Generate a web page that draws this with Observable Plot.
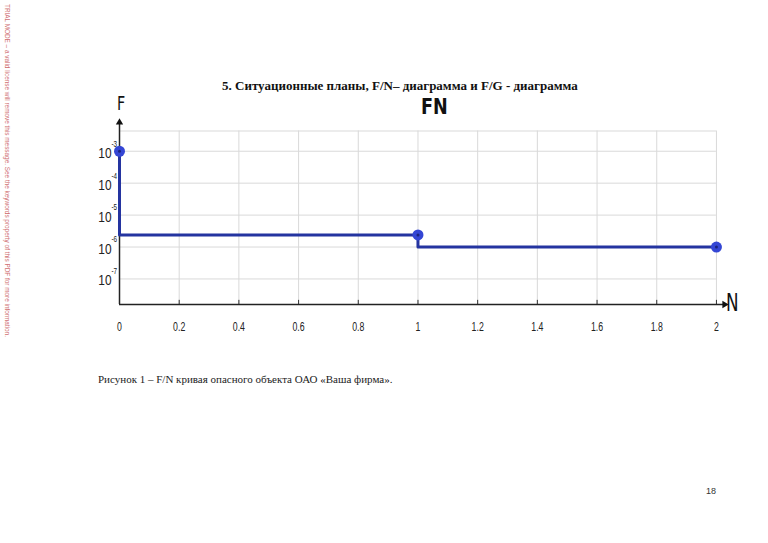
<!DOCTYPE html>
<html>
<head>
<meta charset="utf-8">
<script src="https://cdn.jsdelivr.net/npm/d3@7"></script>
<script src="https://cdn.jsdelivr.net/npm/@observablehq/plot@0.6"></script>
<style>
  html, body { margin: 0; padding: 0; background: #fff; }
  #page { position: relative; width: 768px; height: 543px; overflow: hidden; background: #fff; }
  #page svg { position: absolute; left: 0; top: 0; }
  .abs { position: absolute; white-space: nowrap; }
  .narrow { font-family: "DejaVu Sans", sans-serif; }
  #title { left: 222px; top: 78px; font: bold 13px "Liberation Serif", "Times New Roman", serif; color: #111; }
  #fn { left: 421px; top: 94px; font-size: 22px; font-weight: bold; color: #111; transform: scaleX(0.8); transform-origin: left top; }
  #flab { left: 117px; top: 92px; font-size: 19px; color: #111; transform: scaleX(0.75); transform-origin: left top; }
  #nlab { left: 726px; top: 289px; font-size: 24px; color: #111; transform: scaleX(0.7); transform-origin: left top; }
  #caption { left: 98px; top: 373px; font: 11px "Liberation Serif", "Times New Roman", serif; color: #222; }
  #pnum { left: 706px; top: 486px; font: 9px "Liberation Sans", Arial, sans-serif; color: #333; }
  #wm { left: 4px; top: 4px; writing-mode: vertical-rl; font: 6.4px "Liberation Sans", Arial, sans-serif; color: #cf6f72; }
</style>
</head>
<body>
<div id="page"></div>
<script>
// ---- data ----
const stepN = [0, 0, 1, 1, 2];
const stepF = [1e-3, 2.4e-6, 2.4e-6, 1e-6, 1e-6];
const pointN = [0, 1, 2];
const pointF = [1e-3, 2.4e-6, 1e-6];
const xTicks = [0, 0.2, 0.4, 0.6, 0.8, 1, 1.2, 1.4, 1.6, 1.8, 2];
const xTickLabels = ["0", "0.2", "0.4", "0.6", "0.8", "1", "1.2", "1.4", "1.6", "1.8", "2"];
const yTicks = [1e-3, 1e-4, 1e-5, 1e-6, 1e-7];
const yTickBase = ["10", "10", "10", "10", "10"];
const yTickExp = ["-3", "-4", "-5", "-6", "-7"];
const topGrid = 0.0043;

const yBottom = 10 ** -7.8;
const yTop = 10 ** -2.1;
const xEnd = 2.027;

const step = stepN.map((n, i) => ({n, f: stepF[i]}));
const pts = pointN.map((n, i) => ({n, f: pointF[i]}));
const sans = '"Liberation Sans", Arial, sans-serif';

const chart = Plot.plot({
  width: 768,
  height: 543,
  marginLeft: 119,
  marginRight: 44,
  marginTop: 122,
  marginBottom: 239,
  style: {background: "transparent", overflow: "visible"},
  x: {domain: [0, xEnd], axis: null},
  y: {type: "log", domain: [yBottom, yTop], axis: null},
  marks: [
    Plot.ruleX(xTicks.slice(1), {x: d => d, y1: yBottom, y2: topGrid, stroke: "#d9d9d9", strokeWidth: 1}),
    Plot.ruleY([topGrid, ...yTicks], {y: d => d, x1: 0, x2: 2, stroke: "#d9d9d9", strokeWidth: 1}),
    Plot.ruleX(xTicks, {x: d => d, y1: yBottom, y2: yBottom * 10 ** 0.13, stroke: "#333", strokeWidth: 1}),
    Plot.ruleX([0], {x: 0, y1: yBottom, y2: yTop, stroke: "#222", strokeWidth: 1.5}),
    Plot.ruleY([0], {y: yBottom, x1: 0, x2: xEnd, stroke: "#222", strokeWidth: 1.5}),
    Plot.dot([0], {x: 0, y: yTop, symbol: "triangle2", r: 3.5, fill: "#111", stroke: "none"}),
    Plot.dot([0], {x: xEnd, y: yBottom, symbol: "triangle2", rotate: 90, r: 3.5, fill: "#111", stroke: "none"}),
    Plot.text(xTicks, {x: d => d, y: yBottom, dy: 22, text: (d, i) => xTickLabels[i], fontSize: 12.5, fontFamily: sans, fill: "#222", className: "sx70"}),
    Plot.text(yTicks, {x: 0, y: d => d, dx: -8, dy: 2, textAnchor: "end", text: (d, i) => yTickBase[i], fontSize: 14, fontFamily: sans, fill: "#222", className: "sx85"}),
    Plot.text(yTicks, {x: 0, y: d => d, dx: -8, dy: -7.5, textAnchor: "start", text: (d, i) => yTickExp[i], fontSize: 9, fontFamily: sans, fill: "#222", className: "sx70"}),
    Plot.line(step, {x: "n", y: "f", stroke: "#2434a0", strokeWidth: 3}),
    Plot.dot(pts, {x: "n", y: "f", r: 5.5, fill: "#3446d4", stroke: "none"}),
    Plot.dot(pts, {x: "n", y: "f", r: 1.5, fill: "#1a237e", stroke: "none"})
  ]
});

const page = document.getElementById("page");
page.appendChild(chart);

// condense tick label glyphs horizontally (text stays anchored where Plot put it)
const condense = (sel, k) => {
  chart.querySelectorAll(sel + " text").forEach(el => {
    const w = el.getComputedTextLength();
    if (w > 0) {
      el.setAttribute("textLength", (w * k).toFixed(2));
      el.setAttribute("lengthAdjust", "spacingAndGlyphs");
    }
  });
};
condense(".sx70", 0.7);
condense(".sx85", 0.85);

const add = (id, text, cls) => {
  const d = document.createElement("div");
  d.id = id; d.className = "abs" + (cls ? " " + cls : ""); d.textContent = text;
  page.appendChild(d);
};
add("title", "5.  Ситуационные планы, F/N\u2013 диаграмма и F/G - диаграмма");
add("fn", "FN", "narrow");
add("flab", "F", "narrow");
add("nlab", "N", "narrow");
add("caption", "Рисунок 1 \u2013 F/N кривая опасного объекта ОАО «Ваша фирма».");
add("pnum", "18");
add("wm", "TRIAL MODE \u2013 a valid license will remove this message. See the keywords property of this PDF for more information.");
</script>
</body>
</html>
